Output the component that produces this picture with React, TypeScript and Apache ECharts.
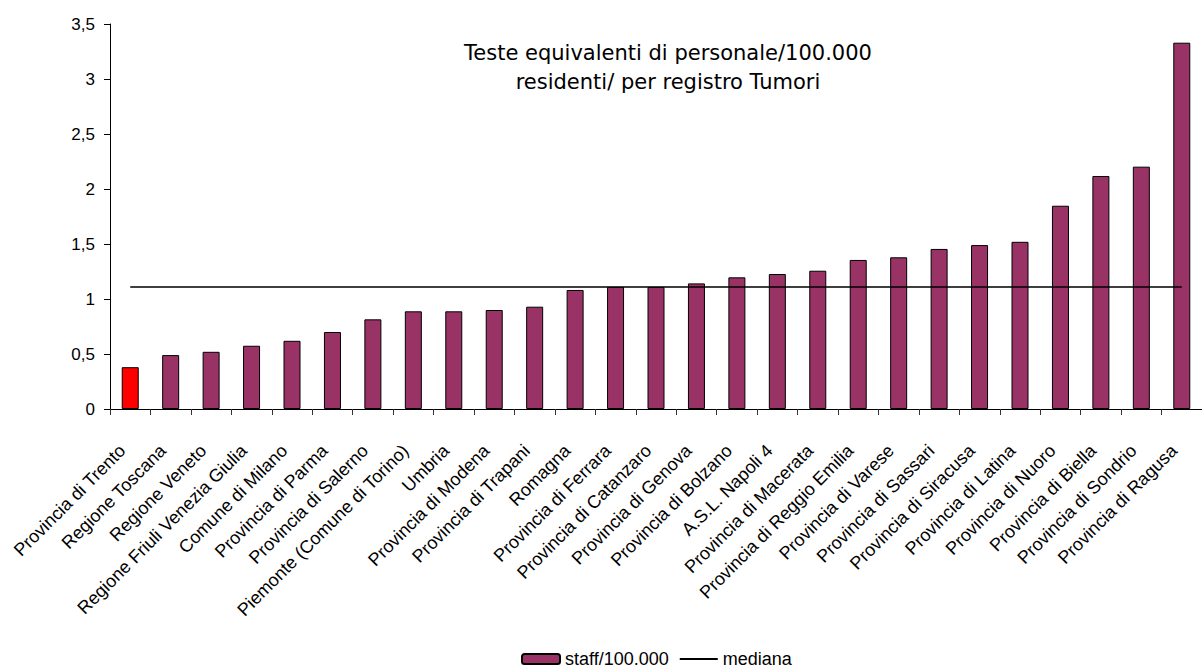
import React, { useEffect, useRef } from "react";
import * as echarts from "echarts";

const categories = [
  "Provincia di Trento",
  "Regione Toscana",
  "Regione Veneto",
  "Regione Friuli Venezia Giulia",
  "Comune di Milano",
  "Provincia di Parma",
  "Provincia di Salerno",
  "Piemonte (Comune di Torino)",
  "Umbria",
  "Provincia di Modena",
  "Provincia di Trapani",
  "Romagna",
  "Provincia di Ferrara",
  "Provincia di Catanzaro",
  "Provincia di Genova",
  "Provincia di Bolzano",
  "A.S.L. Napoli 4",
  "Provincia di Macerata",
  "Provincia di Reggio Emilia",
  "Provincia di Varese",
  "Provincia di Sassari",
  "Provincia di Siracusa",
  "Provincia di Latina",
  "Provincia di Nuoro",
  "Provincia di Biella",
  "Provincia di Sondrio",
  "Provincia di Ragusa",
];

const staffValues = [
  0.38, 0.49, 0.52, 0.575, 0.62, 0.7, 0.815, 0.888, 0.888, 0.9, 0.93, 1.082,
  1.11, 1.11, 1.142, 1.197, 1.227, 1.257, 1.355, 1.379, 1.455, 1.49, 1.52,
  1.848, 2.118, 2.203, 3.33,
];

const medianValue = 1.11;
const medianValues = categories.map(() => medianValue);

const highlightIndex = 0;

const titleLines = [
  "Teste equivalenti di personale/100.000",
  "residenti/ per registro Tumori",
];

const seriesNames = ["staff/100.000", "mediana"];

export default function App() {
  const ref = useRef<HTMLDivElement>(null);

  useEffect(() => {
    document.body.style.margin = "0";
    if (!ref.current) return;
    const chart = echarts.init(ref.current, null, { renderer: "svg" });
    const font = "Liberation Sans, Arial, sans-serif";
    chart.setOption({
      animation: false,
      backgroundColor: "#ffffff",
      title: {
        text: titleLines.join("\n"),
        left: 668,
        top: 38,
        padding: 0,
        textAlign: "center",
        textStyle: {
          fontFamily: "DejaVu Sans, sans-serif",
          fontSize: 21,
          fontWeight: "normal",
          color: "#000",
          lineHeight: 29,
        },
      },
      legend: {
        top: 650,
        left: 521,
        padding: 0,
        itemWidth: 38,
        itemHeight: 10,
        itemGap: 10,
        textStyle: { fontFamily: font, fontSize: 18, color: "#000" },
        data: [
          { name: seriesNames[0] },
          { name: seriesNames[1], itemStyle: { opacity: 0 } },
        ],
      },
      grid: {
        left: 110,
        top: 24,
        width: 1098,
        height: 385,
        containLabel: false,
      },
      xAxis: {
        type: "category",
        data: categories,
        boundaryGap: true,
        axisLine: { lineStyle: { color: "#000", width: 1 } },
        axisTick: { show: true, length: 6, lineStyle: { color: "#333" } },
        axisLabel: {
          rotate: 45,
          interval: 0,
          margin: 31,
          padding: [0, 11, 0, 0],
          fontFamily: font,
          fontSize: 18,
          color: "#000",
        },
      },
      yAxis: {
        type: "value",
        min: 0,
        max: 3.5,
        interval: 0.5,
        splitLine: { show: false },
        axisLine: { show: true, lineStyle: { color: "#000", width: 1 } },
        axisTick: { show: true, length: 6, lineStyle: { color: "#000" } },
        axisLabel: {
          fontFamily: font,
          fontSize: 17,
          color: "#000",
          margin: 15,
          formatter: (v: number) => String(v).replace(".", ","),
        },
      },
      series: [
        {
          name: seriesNames[0],
          type: "bar",
          barWidth: 17,
          data: staffValues.map((v, i) =>
            i === highlightIndex
              ? { value: v, itemStyle: { color: "#ff0000" } }
              : v
          ),
          itemStyle: { color: "#993366", borderColor: "#000", borderWidth: 1 },
        },
        {
          name: seriesNames[1],
          type: "line",
          data: medianValues,
          symbol: "none",
          lineStyle: { color: "#000", width: 1.5 },
          itemStyle: { color: "#000" },
          z: 3,
        },
      ],
    });
    return () => chart.dispose();
  }, []);

  return <div ref={ref} style={{ width: 1202, height: 670 }} />;
}
